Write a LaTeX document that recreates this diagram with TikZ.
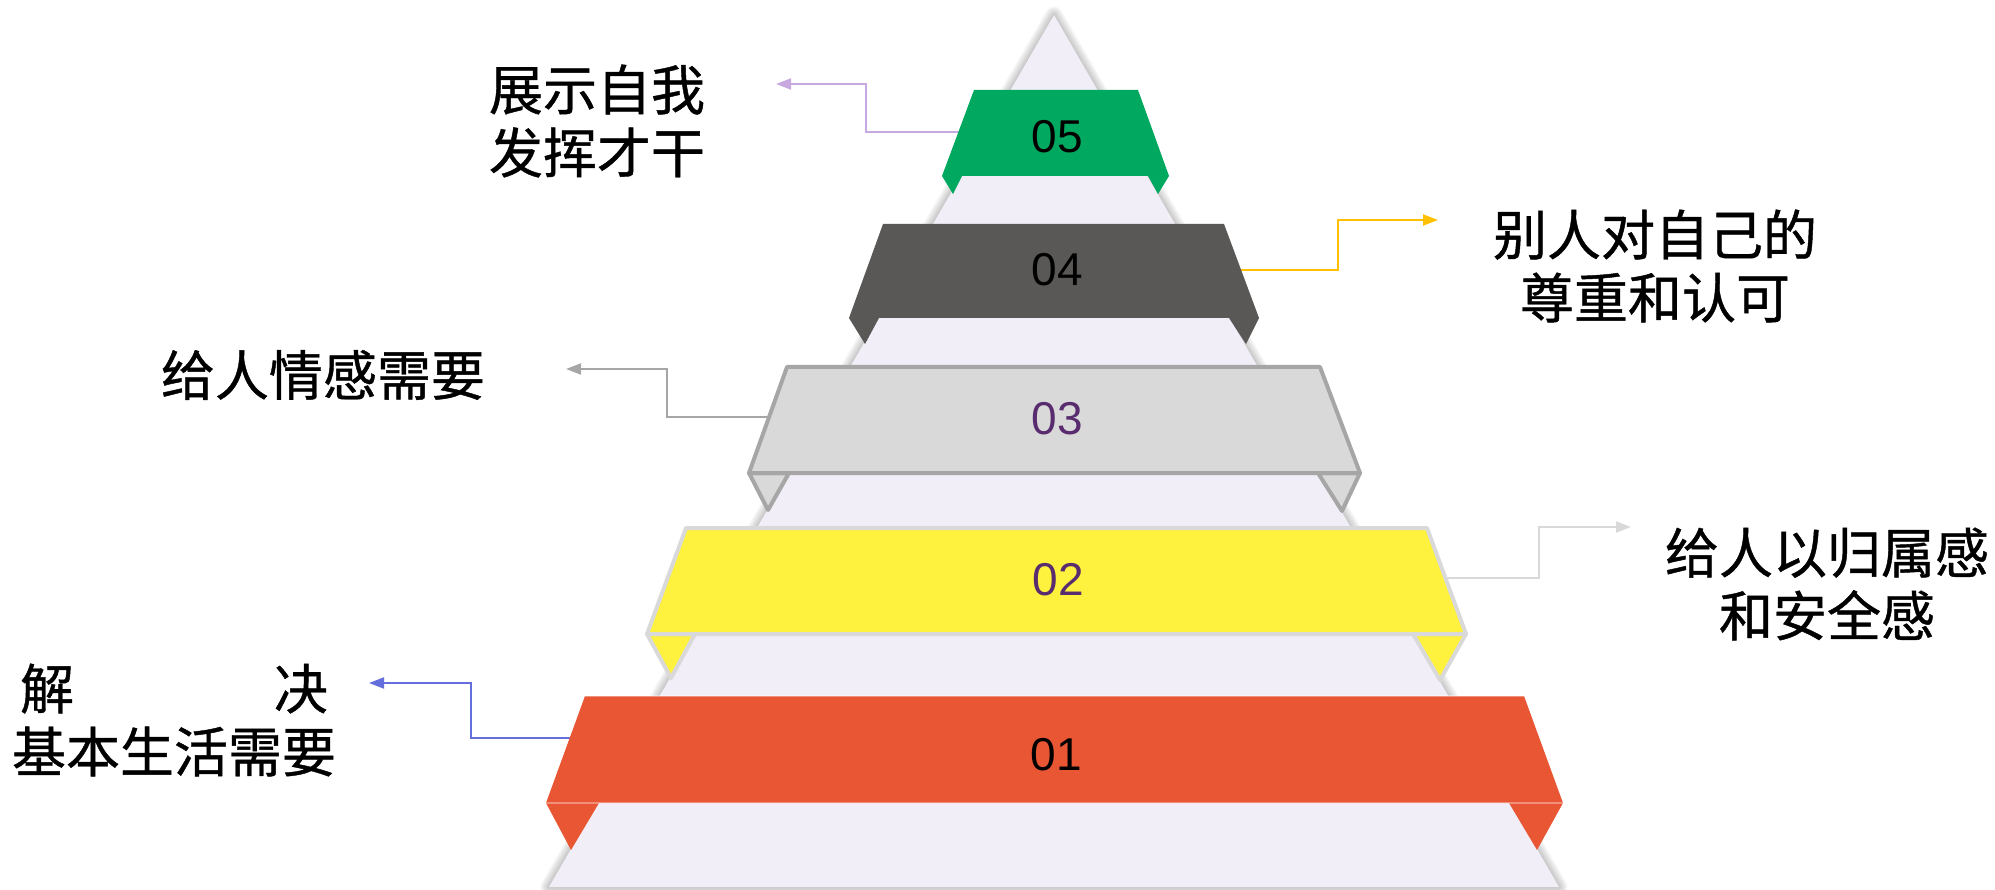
\documentclass[tikz,border=0pt]{standalone}
\usepackage{fontspec}
\setmainfont{Liberation Sans}
\newfontfamily\cjk[FakeBold=0.8]{Noto Sans CJK SC}
\usetikzlibrary{arrows.meta}
\definecolor{trifill}{RGB}{242,238,248}
\definecolor{bandA}{RGB}{232,86,51}
\definecolor{bandB}{RGB}{255,242,62}
\definecolor{bandC}{RGB}{217,217,217}
\definecolor{bandD}{RGB}{89,88,86}
\definecolor{bandE}{RGB}{0,168,96}
\definecolor{strokeB}{RGB}{217,217,217}
\definecolor{strokeC}{RGB}{166,166,166}
\definecolor{numpurple}{RGB}{88,44,110}
\definecolor{connA}{RGB}{100,110,220}
\definecolor{connB}{RGB}{217,217,217}
\definecolor{connC}{RGB}{166,166,166}
\definecolor{connD}{RGB}{255,192,0}
\definecolor{connE}{RGB}{200,168,224}
\begin{document}
\begin{tikzpicture}[x=1pt,y=-1pt,
  num/.style={font=\fontsize{46}{46}\selectfont, inner sep=0pt},
  lbl/.style={font=\cjk\fontsize{54}{63}\selectfont, align=center, inner sep=0pt},
  conn/.style={line width=2pt, -{Triangle[length=15pt,width=11pt]}},
  band/.style={line join=round},
]
\useasboundingbox (0,0) rectangle (1995,890);
% background triangle with soft shadow
\coordinate (apex) at (1054,15);
\coordinate (bl) at (549,887);
\coordinate (br) at (1559,887);
\foreach \w in {2,5,8,11,14,17}
  \draw[black, opacity=0.04, line width=\w pt, line join=round] (apex) -- (bl) -- (br) -- cycle;
\fill[trifill] (apex) -- (bl) -- (br) -- cycle;

% connectors (drawn under bands)
\coordinate (s5) at (960,132); \coordinate (k5) at (866,84);  \coordinate (e5) at (776,84);
\coordinate (s4) at (1240,270); \coordinate (k4) at (1338,220); \coordinate (e4) at (1438,220);
\coordinate (s3) at (770,417); \coordinate (k3) at (667,369); \coordinate (e3) at (566,369);
\coordinate (s2) at (1444,578); \coordinate (k2) at (1539,527); \coordinate (e2) at (1631,527);
\coordinate (s1) at (572,738); \coordinate (k1) at (471,683); \coordinate (e1) at (369,683);
\draw[conn, connE] (s5) -| (k5) -- (e5);
\draw[conn, connD] (s4) -| (k4) -- (e4);
\draw[conn, connC] (s3) -| (k3) -- (e3);
\draw[conn, connB] (s2) -| (k2) -- (e2);
\draw[conn, connA] (s1) -| (k1) -- (e1);

% band 05
\fill[bandE] (942,176) -- (953,194) -- (962,176) -- cycle;
\fill[bandE] (1169,176) -- (1158,194) -- (1148,176) -- cycle;
\fill[bandE] (974,90) -- (1138,90) -- (1169,176) -- (942,176) -- cycle;
% band 04
\fill[bandD] (849,318) -- (865,344) -- (879,318) -- cycle;
\fill[bandD] (1259,318) -- (1246,344) -- (1229,318) -- cycle;
\fill[bandD] (883,224) -- (1224,224) -- (1259,318) -- (849,318) -- cycle;
% band 03
\filldraw[band, fill=bandC, draw=strokeC, line width=4pt] (749,473) -- (768,510) -- (789,473) -- cycle;
\filldraw[band, fill=bandC, draw=strokeC, line width=4pt] (1360,473) -- (1342,511) -- (1318,473) -- cycle;
\filldraw[band, fill=bandC, draw=strokeC, line width=4pt] (787,367) -- (1320,367) -- (1360,473) -- (749,473) -- cycle;
% band 02
\filldraw[band, fill=bandB, draw=strokeB, line width=4pt] (647,634) -- (671,678) -- (695,634) -- cycle;
\filldraw[band, fill=bandB, draw=strokeB, line width=4pt] (1466,634) -- (1440,680) -- (1413,634) -- cycle;
\filldraw[band, fill=bandB, draw=strokeB, line width=4pt] (686,528) -- (1427,528) -- (1466,634) -- (647,634) -- cycle;
% band 01
\fill[bandA] (546,803) -- (571,850) -- (599,803) -- cycle;
\fill[bandA] (1563,803) -- (1537,850) -- (1509,803) -- cycle;
\fill[bandA] (585,696) -- (1524,696) -- (1563,803) -- (546,803) -- cycle;
\draw[white, opacity=0.35, line width=1.2pt] (585,696) -- (1524,696);
\draw[white, opacity=0.35, line width=1.2pt] (546,803) -- (1563,803);

% numbers
\node[num] (n5) at (1057,137) {05};
\node[num] (n4) at (1057,270) {04};
\node[num, text=numpurple] (n3) at (1057,419) {03};
\node[num, text=numpurple] (n2) at (1058,580) {02};
\node[num] (n1) at (1056,755) {01};

% labels
\node[lbl] (t5) at (597,121) {展示自我\\发挥才干};
\node[lbl] (t4) at (1655,266) {别人对自己的\\尊重和认可};
\node[lbl] (t3) at (323,375) {给人情感需要};
\node[lbl] (t2) at (1827,584) {给人以归属感\\和安全感};
\node[lbl] (t1) at (174,720) {\makebox[5.7em][s]{解\hfill 决}\\基本生活需要};
\end{tikzpicture}
\end{document}
